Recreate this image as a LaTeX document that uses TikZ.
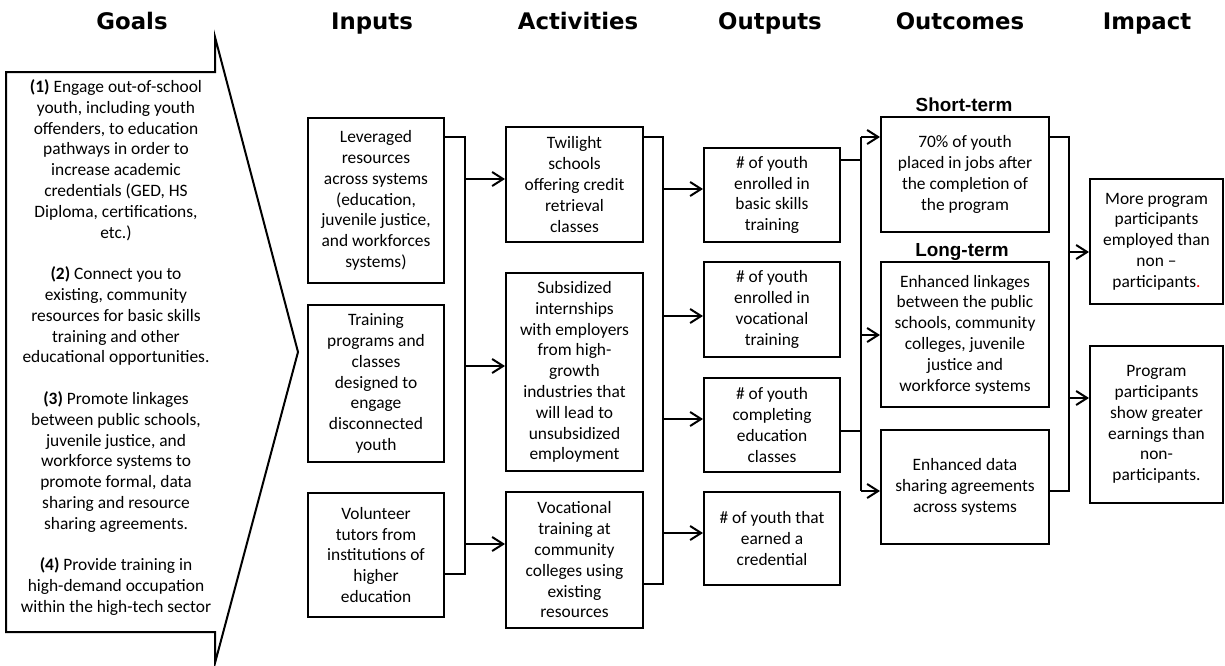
\documentclass[tikz,border=0pt]{standalone}
\usepackage{fontspec}
\setmainfont{Carlito}
\newfontfamily\titrefam{DejaVu Sans}
\newfontfamily\arialfam{Liberation Sans}
\usetikzlibrary{arrows.meta}
\newcommand{\corps}{\fontsize{17.4pt}{20.8pt}\selectfont}
\newcommand{\titre}{\titrefam\bfseries\fontsize{22.8pt}{26pt}\selectfont}
\newcommand{\soustitre}{\arialfam\bfseries\fontsize{18.9pt}{22pt}\selectfont}
\tikzset{boite/.style={draw,line width=2pt,align=center,font=\corps,inner sep=0pt},
  lien/.style={line width=2pt,line join=miter},
  fleche/.style={line width=2pt,-{Straight Barb[length=11pt,width=14pt]}}}

\begin{document}
\begin{tikzpicture}[x=1pt,y=-1pt]%
\useasboundingbox[fill=white] (0,0) rectangle (1225,665);%%
%%TITRES
\node[font=\titre,anchor=base] (tbuts) at (132,29) {Goals};%%
\node[font=\titre,anchor=base] (tentrees) at (372,29) {Inputs};%%
\node[font=\titre,anchor=base] (tactivites) at (578,29) {Activities};%%
\node[font=\titre,anchor=base] (textrants) at (770,29) {Outputs};%%
\node[font=\titre,anchor=base] (teffets) at (960,29) {Outcomes};%%
\node[font=\titre,anchor=base] (timpact) at (1147,29) {Impact};%%
%%BUTS
\draw[line width=2pt] (6,72) -- (215,72) -- (215,37) -- (298,352) -- (215,663) -- (215,632) -- (6,632) -- cycle;%%
\node[font=\corps,align=center] (buts) at (116,347.5) {\textbf{(1)} Engage out-of-school\\youth, including youth\\offenders, to education\\pathways in order to\\increase academic\\credentials (GED, HS\\Diploma, certifications,\\etc.)\\[20.8pt]
  \textbf{(2)} Connect you to\\existing, community\\resources for basic skills\\training and other\\educational opportunities.\\[20.8pt]
  \textbf{(3)} Promote linkages\\between public schools,\\juvenile justice, and\\workforce systems to\\promote formal, data\\sharing and resource\\sharing agreements.\\[20.8pt]
  \textbf{(4)} Provide training in\\high-demand occupation\\within the high-tech sector};%%
%%ENTREES
\node[boite,minimum width=136pt,minimum height=165pt] (entree1) at (376,200.5) {Leveraged\\resources\\across systems\\(education,\\juvenile justice,\\and workforces\\systems)};%%
\node[boite,minimum width=136pt,minimum height=157pt] (entree2) at (376,383.5) {Training\\programs and\\classes\\designed to\\engage\\disconnected\\youth};%%
\node[boite,minimum width=136pt,minimum height=124pt] (entree3) at (376,555) {Volunteer\\tutors from\\institutions of\\higher\\education};%%
%%ACTIVITES
\node[boite,minimum width=137pt,minimum height=115pt] (activite1) at (574.5,184.5) {Twilight\\schools\\offering credit\\retrieval\\classes};%%
\node[boite,minimum width=137pt,minimum height=198pt] (activite2) at (574.5,372) {Subsidized\\internships\\with employers\\from high-\\growth\\industries that\\will lead to\\unsubsidized\\employment};%%
\node[boite,minimum width=137pt,minimum height=136pt] (activite3) at (574.5,560) {Vocational\\training at\\community\\colleges using\\existing\\resources};%%
%%EXTRANTS
\node[boite,minimum width=136pt,minimum height=94pt] (extrant1) at (772,195) {\# of youth\\enrolled in\\basic skills\\training};%%
\node[boite,minimum width=136pt,minimum height=95pt] (extrant2) at (772,309.5) {\# of youth\\enrolled in\\vocational\\training};%%
\node[boite,minimum width=136pt,minimum height=94pt] (extrant3) at (772,425) {\# of youth\\completing\\education\\classes};%%
\node[boite,minimum width=136pt,minimum height=93pt] (extrant4) at (772,538.5) {\# of youth that\\earned a\\credential};%%
%%EFFETS
\node[font=\soustitre,anchor=base] (tcourt) at (964,111) {Short-term};%%
\node[font=\soustitre,anchor=base] (tlong) at (962,256) {Long-term};%%
\node[boite,minimum width=168pt,minimum height=115pt] (court) at (965,174.5) {70\% of youth\\placed in jobs after\\the completion of\\the program};%%
\node[boite,minimum width=168pt,minimum height=145pt] (long1) at (965,334.5) {Enhanced linkages\\between the public\\schools, community\\colleges, juvenile\\justice and\\workforce systems};%%
\node[boite,minimum width=168pt,minimum height=114pt] (long2) at (965,487) {Enhanced data\\sharing agreements\\across systems};%%
%%IMPACT
\node[boite,minimum width=133pt,minimum height=125pt] (impact1) at (1156.5,241.5) {More program\\participants\\employed than\\non --\\participants{\color{red}.}};%%
\node[boite,minimum width=133pt,minimum height=157pt] (impact2) at (1156.5,424.5) {Program\\participants\\show greater\\earnings than\\non-\\participants.};%%
%%BARRES
\coordinate (bE1) at (465,137);%%
\coordinate (bE3) at (465,574);%%
\coordinate (bA1) at (663,137);%%
\coordinate (bA3) at (663,584);%%
\coordinate (bO1) at (861,160);%%
\coordinate (bO3) at (861,431);%%
\coordinate (bC) at (861,137);%%
\coordinate (bL2) at (861,491);%%
\coordinate (bI1) at (1069,137);%%
\coordinate (bI2) at (1069,491);%%
\draw[lien] (entree1.east |- bE1) -- (bE1) -- (bE3) -- (entree3.east |- bE3);%%
\draw[lien] (activite1.east |- bA1) -- (bA1) -- (bA3) -- (activite3.east |- bA3);%%
\draw[lien] (bC) -- (bL2);%%
\draw[lien] (extrant1.east |- bO1) -- (bO1);%%
\draw[lien] (extrant3.east |- bO3) -- (bO3);%%
\draw[lien] (court.east |- bI1) -- (bI1) -- (bI2) -- (long2.east |- bI2);%%
%%FLECHES
\coordinate (vA1) at (465,179);%%
\coordinate (vA2) at (465,366);%%
\coordinate (vA3) at (465,544);%%
\draw[fleche] (vA1) -- (vA1 -| activite1.west);%%
\draw[fleche] (vA2) -- (vA2 -| activite2.west);%%
\draw[fleche] (vA3) -- (vA3 -| activite3.west);%%
\coordinate (vO1) at (663,189);%%
\coordinate (vO2) at (663,316);%%
\coordinate (vO3) at (663,419);%%
\coordinate (vO4) at (663,533);%%
\draw[fleche] (vO1) -- (vO1 -| extrant1.west);%%
\draw[fleche] (vO2) -- (vO2 -| extrant2.west);%%
\draw[fleche] (vO3) -- (vO3 -| extrant3.west);%%
\draw[fleche] (vO4) -- (vO4 -| extrant4.west);%%
\coordinate (vL1) at (861,335);%%
\draw[fleche] (bC) -- (bC -| court.west);%%
\draw[fleche] (vL1) -- (vL1 -| long1.west);%%
\draw[fleche] (bL2) -- (bL2 -| long2.west);%%
\coordinate (vM) at (1069,252);%%
\coordinate (vP) at (1069,398);%%
\draw[fleche] (vM) -- (vM -| impact1.west);%%
\draw[fleche] (vP) -- (vP -| impact2.west);%%
\end{tikzpicture}
\end{document}
